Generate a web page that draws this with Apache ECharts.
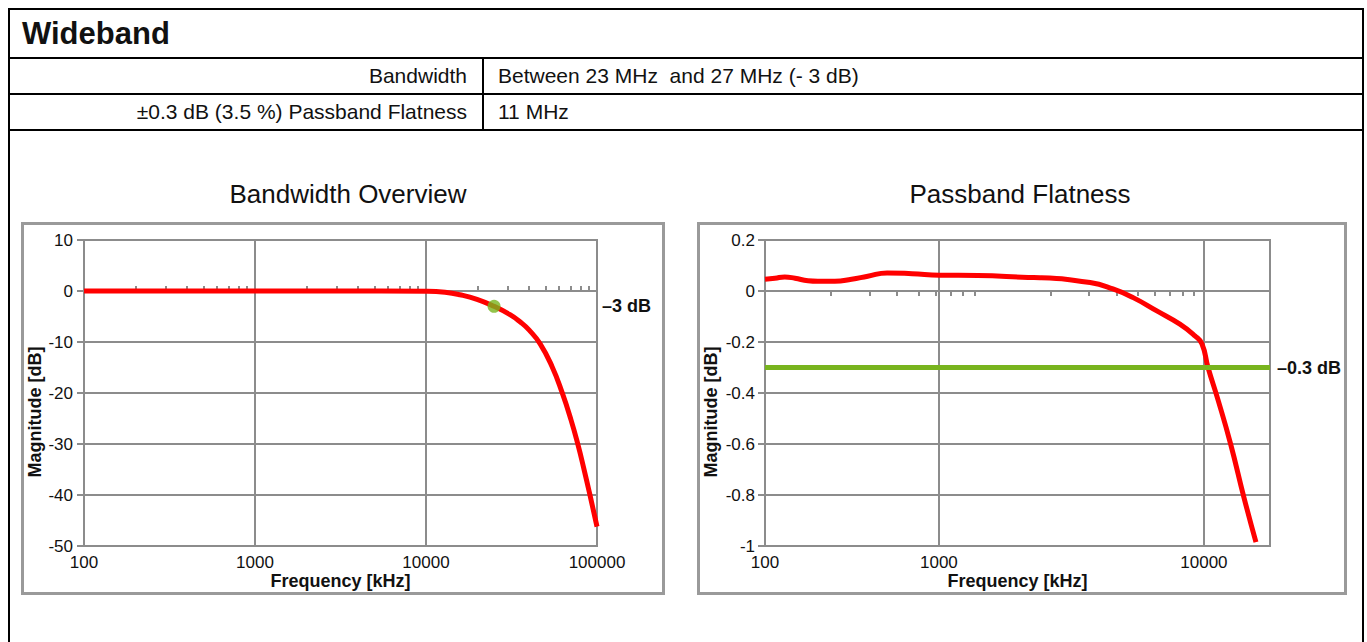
<!DOCTYPE html>
<html><head><meta charset="utf-8">
<script src="https://cdn.jsdelivr.net/npm/echarts@6/dist/echarts.min.js"></script>
<style>
html,body{margin:0;padding:0;background:#fff;width:1367px;height:642px;overflow:hidden;font-family:"Liberation Sans",Arial,Helvetica,sans-serif;color:#111;}
.abs{position:absolute;}
.hl{position:absolute;background:#000;height:2px;left:8px;width:1356px;}
.cell{position:absolute;white-space:pre;font-size:21px;height:34px;line-height:34px;}
.panel{position:absolute;border:3px solid #9a9a9a;box-sizing:border-box;}
#c{position:absolute;left:0;top:0;width:1367px;height:642px;}
</style></head><body>
<div class="abs" style="left:8px;top:8px;width:1356px;height:700px;border:2px solid #000;box-sizing:border-box"></div>
<div class="abs" style="left:22px;top:10px;height:47px;line-height:47px;font-size:31px;font-weight:bold;">Wideband</div>
<div class="hl" style="top:57px"></div>
<div class="hl" style="top:93px"></div>
<div class="hl" style="top:129px"></div>
<div class="abs" style="left:482px;top:58px;width:2px;height:72px;background:#000"></div>
<div class="cell" style="left:10px;width:457px;top:59px;text-align:right">Bandwidth</div>
<div class="cell" style="left:498px;top:59px">Between 23 MHz  and 27 MHz (- 3 dB)</div>
<div class="cell" style="left:10px;width:457px;top:95px;text-align:right">±0.3 dB (3.5 %) Passband Flatness</div>
<div class="cell" style="left:498px;top:95px">11 MHz</div>
<div class="panel" style="left:21px;top:222px;width:644px;height:373px"></div>
<div class="panel" style="left:697px;top:222px;width:650px;height:373px"></div>
<div id="c"></div>
<script>
// ---- data ----
const bwFreq = [100, 300, 1000, 3000, 10000, 12920, 15800, 19870, 25000, 30990, 35450, 40030, 46420, 54560, 62420, 70470, 77440, 83950, 91000, 100000];
const bwMag  = [0, 0, 0, 0, -0.06, -0.25, -0.73, -1.63, -3.0, -4.65, -6.03, -7.63, -10.32, -14.79, -19.84, -25.27, -30.18, -34.96, -40.02, -46.2];
const cutoffPoint = [25000, -3];
const cutoffLabel = '–3 dB';
const bwMinorTicks = [200,300,400,500,600,700,800,900,2000,3000,4000,5000,6000,7000,8000,9000,20000,30000,40000,50000,60000,70000,80000,90000];
const bwYTicks = [-50, 10, 10];

const flFreq = [100, 111, 123, 137, 157, 174, 208, 248, 294, 360, 468, 625, 930, 1580, 1790, 3030, 3850, 4760, 6100, 7770, 9100, 9790, 10440, 11620, 13230, 15210, 17260];
const flMag  = [0.046, 0.050, 0.055, 0.050, 0.040, 0.038, 0.038, 0.046, 0.058, 0.071, 0.068, 0.062, 0.061, 0.053, 0.052, 0.033, 0.008, -0.026, -0.078, -0.130, -0.176, -0.207, -0.300, -0.430, -0.600, -0.809, -0.985];
const flatLimit = -0.3;
const flatLabel = '–0.3 dB';
const flMinorTicks = [200,300,400,500,600,700,800,900,2000,3000,4000,5000,6000,7000,8000,9000];
// x tick labels of the flatness chart and where the reference draws them
const flXTickLabels = ['100', '1000', '10000'];
const flXTickAt = [100, 620, 10000];

const GRAY = '#8c8c8c', RED = '#ff0000', GREEN = '#78b41e', TXT = '#111';
const FONT = '"Liberation Sans", Arial, Helvetica, sans-serif';

const zip = (a, b) => a.map((v, i) => [v, b[i]]);
const lineGray = {color: GRAY, width: 2};

function mainX(gi, min, max, extra) {
  return Object.assign({
    gridIndex: gi, type: 'log', logBase: 10, min: min, max: max,
    axisLine: {show: true, onZero: false, lineStyle: lineGray},
    axisTick: {show: false},
    splitLine: {show: true, lineStyle: lineGray},
    axisLabel: {color: TXT, fontSize: 17, fontFamily: FONT, margin: 8,
      formatter: v => String(Math.round(v))},
    name: 'Frequency [kHz]', nameLocation: 'middle', nameGap: 24,
    nameTextStyle: {color: TXT, fontSize: 18, fontWeight: 'bold', fontFamily: FONT}
  }, extra || {});
}
function minorX(gi, min, max, ticks, inside) {
  return {
    gridIndex: gi, type: 'log', logBase: 10, min: min, max: max, position: 'top',
    axisLine: {show: false, onZero: true},
    axisTick: {show: true, inside: inside, length: 5, customValues: ticks, lineStyle: lineGray},
    axisLabel: {show: false}, splitLine: {show: false}
  };
}
function valY(gi, min, max, interval, margin, gap) {
  return {
    gridIndex: gi, type: 'value', min: min, max: max, interval: interval,
    axisLine: {show: true, onZero: false, lineStyle: lineGray},
    axisTick: {show: true, length: 7, lineStyle: lineGray},
    splitLine: {show: true, lineStyle: lineGray},
    axisLabel: {color: TXT, fontSize: 17, fontFamily: FONT, margin: margin},
    name: 'Magnitude [dB]', nameLocation: 'middle', nameGap: gap,
    nameTextStyle: {color: TXT, fontSize: 18, fontWeight: 'bold', fontFamily: FONT, padding: [0, 38, 0, 0]}
  };
}
const endLabel = (txt, dist) => ({show: true, position: 'end', distance: dist, formatter: txt,
  color: TXT, fontSize: 18, fontWeight: 'bold', fontFamily: FONT});

const chart = echarts.init(document.getElementById('c'), null, {renderer: 'svg', width: 1367, height: 642});
chart.setOption({
  animation: false,
  textStyle: {fontFamily: FONT},
  title: [
    {text: 'Bandwidth Overview', left: 343, top: 176, textAlign: 'center',
     textStyle: {fontSize: 26, fontWeight: 'normal', color: TXT, fontFamily: FONT}},
    {text: 'Passband Flatness', left: 1015, top: 176, textAlign: 'center',
     textStyle: {fontSize: 26, fontWeight: 'normal', color: TXT, fontFamily: FONT}}
  ],
  grid: [
    {left: 84, top: 240, width: 513, height: 306, show: true, borderColor: GRAY, borderWidth: 2, backgroundColor: 'transparent'},
    {left: 765, top: 240, width: 505, height: 306, show: true, borderColor: GRAY, borderWidth: 2, backgroundColor: 'transparent'}
  ],
  xAxis: [
    mainX(0, bwFreq[0], bwFreq[bwFreq.length - 1]),
    minorX(0, bwFreq[0], bwFreq[bwFreq.length - 1], bwMinorTicks, false),
    mainX(1, 100, 20000, {
      axisTick: {show: false, customValues: flXTickAt},
      axisLabel: {color: TXT, fontSize: 17, fontFamily: FONT, margin: 8, customValues: flXTickAt,
        formatter: v => {
          let best = 0;
          flXTickAt.forEach((t, i) => { if (Math.abs(Math.log(t) - Math.log(v)) < Math.abs(Math.log(flXTickAt[best]) - Math.log(v))) best = i; });
          return flXTickLabels[best];
        }}
    }),
    minorX(1, 100, 20000, flMinorTicks, true)
  ],
  yAxis: [
    valY(0, bwYTicks[0], bwYTicks[1], bwYTicks[2], 11, 40),
    valY(1, -1, 0.2, 0.2, 10, 45)
  ],
  series: [
    {type: 'line', xAxisIndex: 0, yAxisIndex: 0, data: zip(bwFreq, bwMag), symbol: 'none',
     smooth: 0.5, lineStyle: {color: RED, width: 5}, z: 3},
    {type: 'scatter', xAxisIndex: 0, yAxisIndex: 0, data: [cutoffPoint], symbolSize: 13,
     itemStyle: {color: GREEN}, z: 4,
     markLine: {silent: true, symbol: 'none', lineStyle: {color: 'rgba(0,0,0,0)', width: 0}, label: endLabel(cutoffLabel, 5),
       data: [{yAxis: cutoffPoint[1]}]}},
    {type: 'line', xAxisIndex: 2, yAxisIndex: 1, data: [], z: 1,
     markLine: {silent: true, symbol: 'none', lineStyle: {color: GREEN, width: 5, type: 'solid'},
       label: endLabel(flatLabel, 7), data: [{yAxis: flatLimit}]}},
    {type: 'line', xAxisIndex: 2, yAxisIndex: 1, data: zip(flFreq, flMag), symbol: 'none',
     smooth: 0.5, lineStyle: {color: RED, width: 5}, z: 3}
  ]
});
</script>
</body></html>
